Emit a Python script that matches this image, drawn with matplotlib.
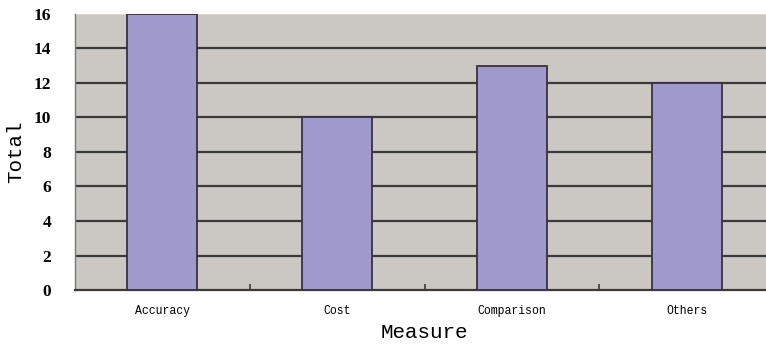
import matplotlib
matplotlib.use("Agg")
import matplotlib.pyplot as plt
import numpy as np

categories = ["Accuracy", "Cost", "Comparison", "Others"]
totals = [16, 10, 13, 12]
yticks = [0, 2, 4, 6, 8, 10, 12, 14, 16]

fig = plt.figure(figsize=(7.66, 3.45), dpi=100)
ax = fig.add_axes([75/766, 1-290/345, (774-75)/766, (290-14)/345])
ax.set_facecolor("#CBC7C3")
x = np.arange(len(categories))
ax.set_axisbelow(True)
ax.yaxis.grid(True, color="#3a3a3a", linewidth=1.6)
ax.bar(x, totals, width=0.4, color="#A099CB", edgecolor="#3a3040", linewidth=1.3, zorder=3)
ax.set_xlim(-0.5, 3.5)
ax.set_ylim(0, 16)
ax.set_yticks(yticks)
ax.set_yticklabels([str(v) for v in yticks], fontfamily="Liberation Serif",
                   fontweight="bold", fontsize=12.5)
ax.tick_params(axis="y", length=0, pad=17)
ax.set_xticks(x)
ax.set_xticklabels(categories, fontfamily="Liberation Mono", fontsize=8.3)
ax.tick_params(axis="x", length=0, pad=11)
ax.set_xticks([0.5, 1.5, 2.5], minor=True)
ax.tick_params(axis="x", which="minor", direction="in", length=4, color="#3a3a3a", width=1.2)
for gl in ax.yaxis.get_gridlines():
    if abs(gl.get_ydata()[0] - 16) < 1e-9 or abs(gl.get_ydata()[0]) < 1e-9:
        gl.set_visible(False)
ax.axhline(16, color="#dedad6", linewidth=1.2, zorder=1)
for s in ["top", "right"]:
    ax.spines[s].set_visible(False)
ax.spines["left"].set_color("#777777")
ax.spines["left"].set_linewidth(1.0)
ax.spines["bottom"].set_color("#3a3a3a")
ax.spines["bottom"].set_linewidth(1.6)
ax.set_xlabel("Measure", fontfamily="Liberation Mono", fontsize=15, labelpad=4)
ax.set_ylabel("Total", fontfamily="Liberation Mono", fontsize=15, labelpad=6)
fig.savefig("out.png", dpi=100)
